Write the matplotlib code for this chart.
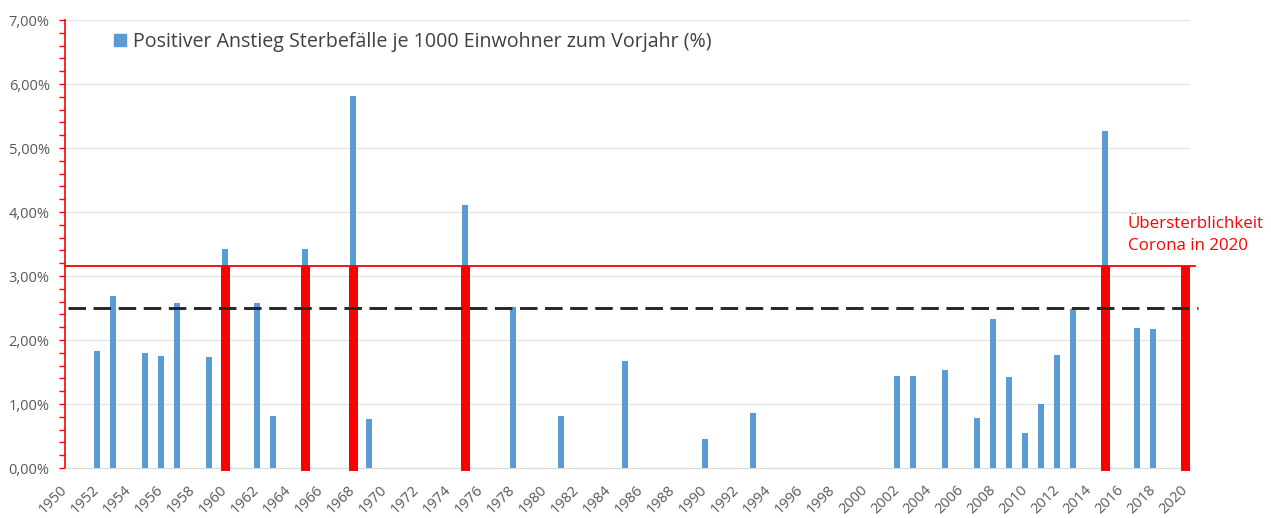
import matplotlib
matplotlib.use("Agg")
import matplotlib.pyplot as plt
from matplotlib.ticker import MultipleLocator, FuncFormatter
from matplotlib.lines import Line2D

years = list(range(1950, 2021))
pos_values = {
    1952: 1.83, 1953: 2.69, 1955: 1.80, 1956: 1.75, 1957: 2.58, 1959: 1.73,
    1960: 3.42, 1962: 2.58, 1963: 0.81, 1965: 3.42, 1968: 5.81, 1969: 0.77,
    1975: 4.11, 1978: 2.52, 1981: 0.81, 1985: 1.67, 1990: 0.45, 1993: 0.86,
    2002: 1.44, 2003: 1.44, 2005: 1.53, 2007: 0.78, 2008: 2.33, 2009: 1.42,
    2010: 0.55, 2011: 1.00, 2012: 1.76, 2013: 2.48, 2015: 5.27, 2017: 2.19,
    2018: 2.17,
}
bar_years = list(pos_values.keys())
bar_values = list(pos_values.values())
red_years = [1960, 1965, 1968, 1975, 2015, 2020]
corona_level = 3.15
dashed_level = 2.5
tick_years = list(range(1950, 2021, 2))
legend_label = "Positiver Anstieg Sterbefälle je 1000 Einwohner zum Vorjahr (%)"
annot_text = "Übersterblichkeit\nCorona in 2020"

plt.rcParams['font.family'] = ['Open Sans', 'DejaVu Sans']

fig = plt.figure(figsize=(12.71, 5.18), dpi=100)
ax = fig.add_axes([65/1271, 50/518, 1125/1271, 448/518])

blue = '#5B9BD5'
red = '#FF0000'
grey_text = '#595959'

ax.bar(bar_years, bar_values, width=0.4, color=blue, zorder=2)
ax.bar(red_years, [corona_level + 0.05] * len(red_years), bottom=-0.05, width=0.56,
       color=red, zorder=3, clip_on=False)

ax.plot([1950.2, 2020.8], [dashed_level, dashed_level], color='#262626', lw=2.1,
        dashes=(6, 2.6), zorder=4, clip_on=False)
ax.plot([1950, 2020.6], [corona_level, corona_level], color=red, lw=1.3, zorder=4,
        clip_on=False)

ax.set_xlim(1950, 2020.3)
ax.set_ylim(0, 7)
ax.yaxis.set_major_locator(MultipleLocator(1))
ax.yaxis.set_minor_locator(MultipleLocator(0.2))
ax.yaxis.set_major_formatter(FuncFormatter(lambda v, p: f"{v:.2f}".replace('.', ',') + "%"))
ax.grid(axis='y', which='major', color='#E6E6E6', lw=1, zorder=0)
ax.set_axisbelow(True)

ax.set_xticks(tick_years)
ax.set_xticklabels([str(y) for y in tick_years], rotation=45, ha='right', va='center',
                   rotation_mode='anchor', fontsize=10.5, color=grey_text)
ax.tick_params(axis='x', length=0, pad=14)
ax.tick_params(axis='y', which='major', length=4, width=1, color=red, labelsize=10.5,
               labelcolor=grey_text, pad=7)
ax.tick_params(axis='y', which='minor', length=4, width=1, color=red)

for s in ['top', 'right']:
    ax.spines[s].set_visible(False)
ax.spines['left'].set_color(red)
ax.spines['left'].set_linewidth(1.2)
ax.spines['bottom'].set_color('#D9D9D9')

handle = Line2D([], [], marker='s', color=blue, linestyle='none', markersize=8.6)
leg = ax.legend([handle], [legend_label], loc='center left', bbox_to_anchor=(0.0405, 0.951),
                frameon=False, fontsize=14.1, handletextpad=0.15, handlelength=1.0,
                borderaxespad=0, borderpad=0)
for t in leg.get_texts():
    t.set_color('#404040')

ax.text(2016.4, 3.64, annot_text, color=red, fontsize=12.2, ha='left', va='center',
        linespacing=1.55)

fig.savefig('out.png', dpi=100, facecolor='white')
